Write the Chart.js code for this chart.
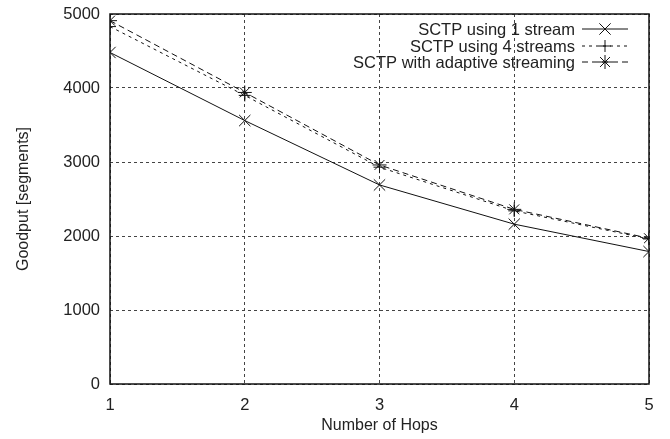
<!DOCTYPE html>
<html>
<head>
<meta charset="utf-8">
<script src="https://cdn.jsdelivr.net/npm/chart.js@4"></script>
<style>
  html, body { margin: 0; padding: 0; background: #fff; }
  #wrap { width: 670px; height: 439px; }
</style>
</head>
<body>
<div id="wrap"><canvas id="goodputChart" width="670" height="439"></canvas></div>
<script>
const hops = [1, 2, 3, 4, 5];
const oneStream = [4480, 3560, 2690, 2160, 1790];
const fourStreams = [4830, 3900, 2930, 2340, 1960];
const adaptive = [4910, 3940, 2960, 2360, 1970];
const yTicks = [0, 1000, 2000, 3000, 4000, 5000];

const font = "'Liberation Sans', Arial, Helvetica, sans-serif";

function pts(values) {
    return hops.map((h, i) => ({ x: h, y: values[i] }));
}

// gnuplot-style legend, text right aligned, sample to the right
const keyPlugin = {
    id: 'key',
    afterDraw(chart) {
        const c = chart.ctx;
        const area = chart.chartArea;
        c.save();
        // frame
        c.strokeStyle = '#111';
        c.lineWidth = 1.5;
        c.setLineDash([]);
        c.strokeRect(area.left, area.top, area.right - area.left, area.bottom - area.top);

        c.font = '16.5px ' + font;
        c.fillStyle = '#222';
        c.textAlign = 'right';
        c.textBaseline = 'middle';
        const textRight = 575, x0 = 582, x1 = 628, rows = [29, 46, 62];
        chart.data.datasets.forEach((ds, i) => {
            const y = rows[i];
            c.fillText(ds.label, textRight, y + 1);
            c.strokeStyle = ds.borderColor;
            c.lineWidth = ds.borderWidth;
            c.setLineDash(ds.borderDash || []);
            c.beginPath();
            c.moveTo(x0, y);
            c.lineTo(x1, y);
            c.stroke();
            c.setLineDash([]);
            Chart.helpers.drawPoint(c, {
                pointStyle: ds.pointStyle,
                radius: ds.pointRadius,
                borderWidth: 1
            }, (x0 + x1) / 2, y);
        });
        c.restore();
    }
};

const ctx = document.getElementById('goodputChart').getContext('2d');

const goodputChart = new Chart(ctx, {
    type: 'line',
    data: {
        datasets: [{
            label: 'SCTP using 1 stream',
            data: pts(oneStream),
            borderColor: '#111',
            borderWidth: 1,
            pointStyle: 'crossRot',
            pointRadius: 8,
            pointBorderColor: '#111',
            pointBorderWidth: 1
        }, {
            label: 'SCTP using 4 streams',
            data: pts(fourStreams),
            borderColor: '#111',
            borderWidth: 1,
            borderDash: [3, 4],
            pointStyle: 'cross',
            pointRadius: 6,
            pointBorderColor: '#111',
            pointBorderWidth: 1
        }, {
            label: 'SCTP with adaptive streaming',
            data: pts(adaptive),
            borderColor: '#111',
            borderWidth: 1,
            borderDash: [6, 4],
            pointStyle: 'star',
            pointRadius: 7,
            pointBorderColor: '#111',
            pointBorderWidth: 1
        }]
    },
    options: {
        responsive: false,
        animation: false,
        layout: { padding: { left: 0, right: 21, top: 14, bottom: 0 } },
        plugins: {
            legend: { display: false },
            tooltip: { enabled: false }
        },
        scales: {
            x: {
                type: 'linear',
                min: 1,
                max: 5,
                afterBuildTicks: (axis) => { axis.ticks = hops.map(v => ({ value: v })); },
                afterFit: (axis) => { axis.height = 55; axis.paddingLeft = 0; axis.paddingRight = 0; },
                grid: { color: '#444', drawTicks: false, lineWidth: 1 },
                border: { display: false, dash: [3, 3] },
                ticks: { color: '#222', font: { family: font, size: 16.5 }, padding: 12,
                    callback: (v) => String(v) },
                title: {
                    display: true,
                    text: 'Number of Hops',
                    color: '#222',
                    font: { family: font, size: 16 },
                    padding: { top: 4, bottom: 4 }
                }
            },
            y: {
                min: 0,
                max: 5000,
                afterBuildTicks: (axis) => { axis.ticks = yTicks.map(v => ({ value: v })); },
                afterFit: (axis) => { axis.width = 110; axis.paddingTop = 0; axis.paddingBottom = 0; },
                grid: { color: '#444', drawTicks: false, lineWidth: 1 },
                border: { display: false, dash: [3, 3] },
                ticks: { color: '#222', font: { family: font, size: 16.5 }, padding: 10,
                    callback: (v) => String(v) },
                title: {
                    display: true,
                    text: 'Goodput [segments]',
                    color: '#222',
                    font: { family: font, size: 16 },
                    padding: { top: 14, bottom: 10 }
                }
            }
        }
    },
    plugins: [keyPlugin]
});
</script>
</body>
</html>
